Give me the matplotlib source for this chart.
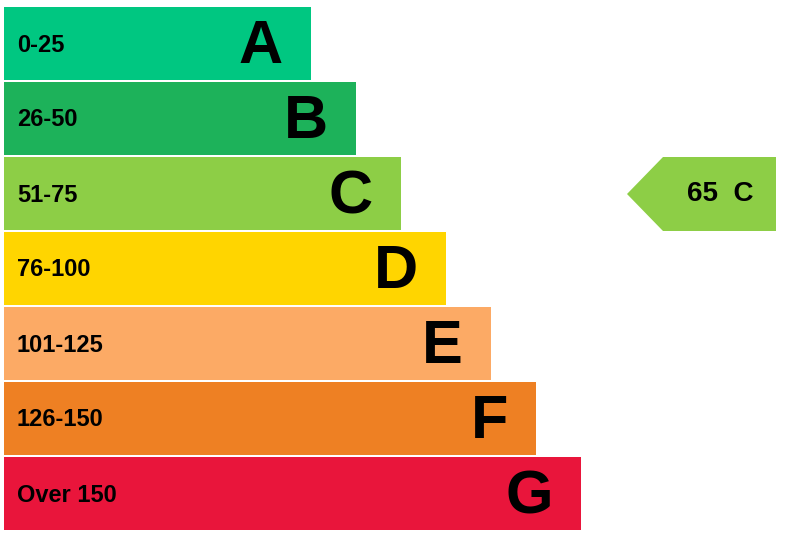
import matplotlib
matplotlib.use("Agg")
import matplotlib.pyplot as plt
from matplotlib.patches import Polygon

# EPC style rating bands
bands = ["0-25", "26-50", "51-75", "76-100", "101-125", "126-150", "Over 150"]
letters = ["A", "B", "C", "D", "E", "F", "G"]
lengths = [307, 352, 397, 442, 487, 532, 577]
colors = ["#00C781", "#1DB25A", "#8DCE46", "#FFD500", "#FCAA65", "#EE8023", "#E9153B"]

current_score = 65
current_band = "C"

fig = plt.figure(figsize=(7.85, 5.41), dpi=100)
ax = fig.add_axes([0, 0, 1, 1])
ax.set_xlim(0, 785)
ax.set_ylim(541, 0)
ax.axis("off")

x0 = 4
top = 7
step = 75
h = 73

for i, (band, letter, w, c) in enumerate(zip(bands, letters, lengths, colors)):
    y = top + i * step
    ax.barh(y + h / 2, w, height=h, left=x0, color=c, edgecolor="none")
    ax.text(17, y + h / 2 + 1.5, band, fontsize=17, fontweight="bold",
            family="Liberation Sans", ha="left", va="center")
    ax.text(x0 + w - 28, y + h / 2 + 4, letter, fontsize=44, fontweight="bold",
            family="Liberation Sans", ha="right", va="center")

# current rating arrow
idx = letters.index(current_band)
ay = top + idx * step
arrow = Polygon([(627, ay + 37), (663, ay), (776, ay), (776, ay + 74), (663, ay + 74)],
                closed=True, facecolor=colors[idx], edgecolor="none")
ax.add_patch(arrow)
ax.text(720, ay + 37, f"{current_score}  {current_band}", fontsize=20, fontweight="bold",
        family="Liberation Sans", ha="center", va="center")

fig.savefig("out.png", dpi=100)
